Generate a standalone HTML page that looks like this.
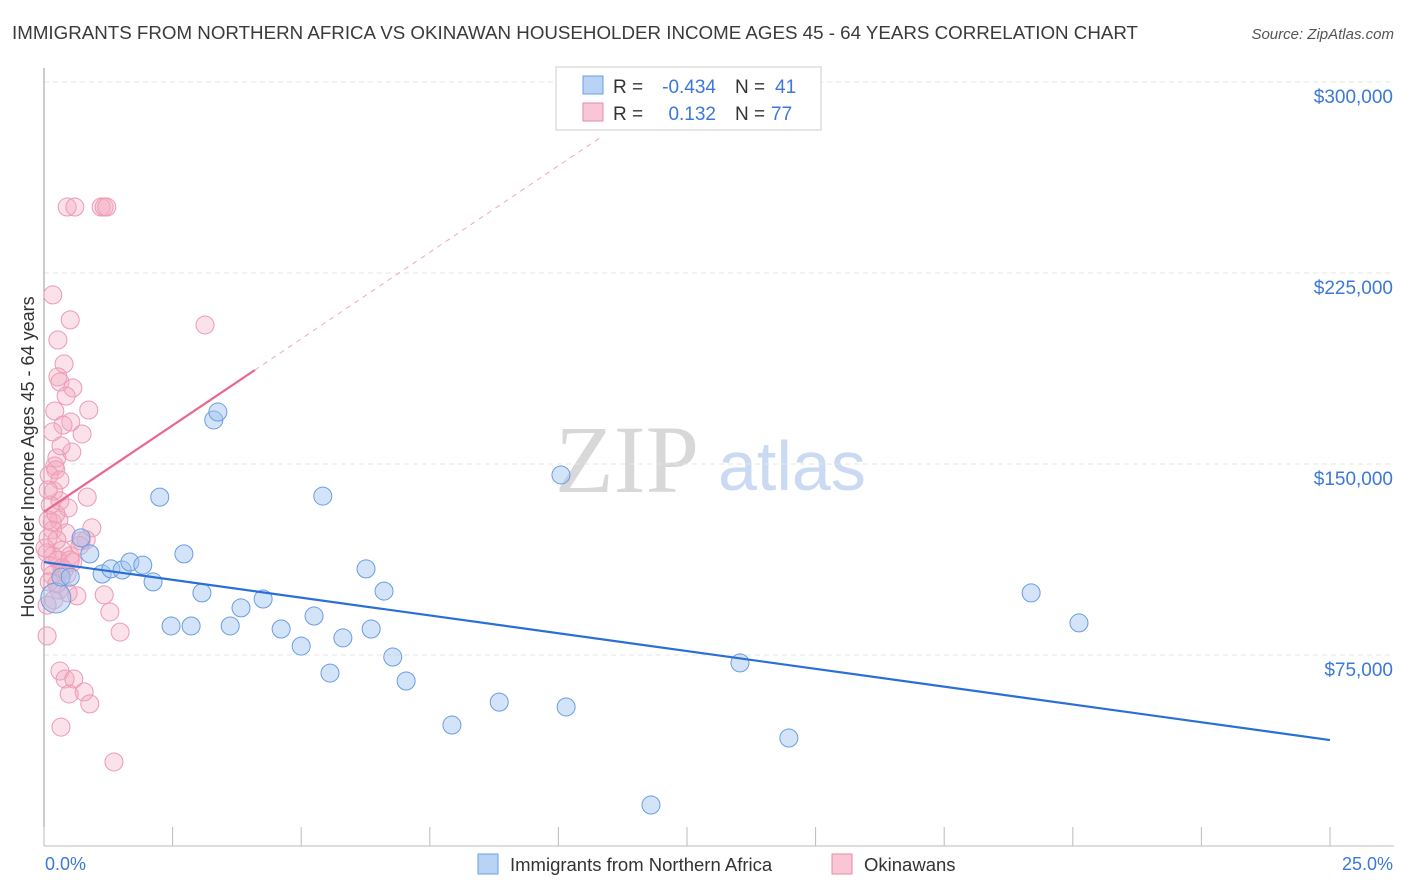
<!DOCTYPE html>
<html><head><meta charset="utf-8"><style>
body{margin:0;background:#fff;font-family:"Liberation Sans",sans-serif;}
svg{display:block}
</style></head><body>
<svg id="chart" width="1406" height="892">
<text x="12" y="39" font-size="18" textLength="1126" lengthAdjust="spacingAndGlyphs" fill="#3a3a3a">IMMIGRANTS FROM NORTHERN AFRICA VS OKINAWAN HOUSEHOLDER INCOME AGES 45 - 64 YEARS CORRELATION CHART</text>
<text x="1394" y="39" font-size="15" font-style="italic" fill="#555" text-anchor="end">Source: ZipAtlas.com</text>
<text x="555" y="492" font-size="96" font-family="Liberation Serif,serif" fill="#d8d8d8">ZIP</text>
<text x="718" y="490" font-size="70" fill="#c9daf2">atlas</text>
<g id="grid"></g>
<line x1="44" y1="68" x2="44" y2="846" stroke="#999"/>
<line x1="44" y1="846" x2="1394" y2="846" stroke="#bbb"/>
<g id="ticks"></g>
<text transform="translate(34,457) rotate(-90)" font-size="18" fill="#333" text-anchor="middle">Householder Income Ages 45 - 64 years</text>
<text x="45" y="870" font-size="18" fill="#3b78d8">0.0%</text>
<text x="1393" y="870" font-size="18" fill="#3b78d8" text-anchor="end">25.0%</text>
<g id="pts"></g>
<g id="lines"></g>
<g>
<rect x="556" y="67" width="265" height="63" fill="#fff" stroke="#ccc"/>
<rect x="583" y="76" width="20" height="18" fill="#b8d3f5" stroke="#6a9de0"/>
<rect x="583" y="103" width="20" height="18" fill="#f8c6d5" stroke="#e88aa8"/>
<text x="613" y="93" font-size="19" fill="#333">R =</text>
<text x="716" y="93" font-size="19" fill="#3b78d8" text-anchor="end">-0.434</text>
<text x="735" y="93" font-size="19" fill="#333">N =</text>
<text x="775" y="93" font-size="19" fill="#3b78d8">41</text>
<text x="613" y="120" font-size="19" fill="#333">R =</text>
<text x="716" y="120" font-size="19" fill="#3b78d8" text-anchor="end">0.132</text>
<text x="735" y="120" font-size="19" fill="#333">N =</text>
<text x="771" y="120" font-size="19" fill="#3b78d8">77</text>
</g>
<g>
<rect x="478" y="854" width="20" height="20" fill="#b8d3f5" stroke="#6a9de0"/>
<text x="510" y="871" font-size="18.5" fill="#333">Immigrants from Northern Africa</text>
<rect x="832" y="854" width="20" height="20" fill="#f8c6d5" stroke="#e88aa8"/>
<text x="864" y="871" font-size="18.5" fill="#333">Okinawans</text>
</g>
</svg>
<script>
const yTicks=[75000,150000,225000,300000];
const yTickLabels=["$75,000","$150,000","$225,000","$300,000"];
const blueX=[0.23,0.33,0.51,0.72,0.89,1.13,1.30,1.52,1.67,1.92,2.12,2.25,2.47,2.72,2.86,3.07,3.30,3.38,3.62,3.83,4.26,4.61,5.00,5.25,5.42,5.56,5.81,6.26,6.36,6.61,6.78,7.04,7.93,8.85,10.05,10.15,11.80,13.53,14.48,19.19,20.12];
const blueY=[97400,105600,105600,121000,114700,106800,108800,108400,111500,110300,103700,137000,86400,114700,86400,99400,167300,170400,86400,93500,97000,85200,78500,90300,137400,67900,81700,108800,85200,100100,74200,64800,47500,56500,145700,54600,16100,71900,42400,99400,87600];
const pinkX=[0.45,0.60,1.11,1.17,1.22,0.17,0.51,0.27,0.39,0.27,0.31,0.56,0.43,0.21,0.87,0.52,0.37,0.17,0.74,0.25,0.54,0.21,0.23,0.10,3.13,0.19,0.84,0.31,0.12,0.47,0.29,0.08,0.93,0.17,0.43,0.08,0.25,0.72,0.82,0.35,0.06,0.17,0.51,0.27,0.56,0.12,0.35,0.16,0.45,0.10,0.29,1.17,0.64,0.47,0.19,1.28,0.06,1.48,0.06,0.31,0.41,0.58,0.49,0.78,0.89,0.33,1.36,0.25,0.39,0.02,0.16,0.23,0.31,0.33,0.08,0.51,0.70];
const pinkY=[250900,250900,250900,250900,250900,216400,206600,198700,189300,184200,182200,179900,176700,170800,171200,166500,165300,162600,161800,152400,154700,149200,147700,145700,204600,139400,137000,135500,133900,132700,128000,128000,124900,124100,122900,121000,120200,119800,120200,116200,115100,113900,113900,112300,111500,110000,109200,106400,106800,103700,100500,98600,98200,99400,96600,91900,82500,84000,94600,68700,65600,65600,59700,60500,55800,46700,33000,102900,108400,117000,127200,130400,143700,157100,139800,112300,118000];
const blueFit=[[0,111500],[25,41600]];
const pinkFit=[[0,131200],[4.1,186900]];
const pinkFitExt=[[4.1,186900],[10.8,278000]];
const X=v=>44+v*(1330-44)/25;
const Y=v=>846-v*191/75000;
const NS="http://www.w3.org/2000/svg";
function mk(t,a,p){const e=document.createElementNS(NS,t);for(const k in a)e.setAttribute(k,a[k]);p.appendChild(e);return e;}
const grid=document.getElementById('grid'),ticks=document.getElementById('ticks'),pts=document.getElementById('pts'),lines=document.getElementById('lines');
yTicks.forEach((v,i)=>{
 const l=mk('line',{x1:44,x2:1394,y1:Y(v),y2:Y(v),stroke:'#e6e6e6','stroke-dasharray':'5,4'},grid);
 
 
 const t=mk('text',{x:1393,y:Y(v)+21,'font-size':19,fill:'#3b78d8','text-anchor':'end'},ticks);
 t.textContent=yTickLabels[i];
 
 
});
for(let i=0;i<=10;i++){
 const t=mk('line',{x1:X(i*2.5),x2:X(i*2.5),y1:827,y2:846,stroke:'#bbb'},ticks);
 
 
}
pinkX.forEach((x,i)=>{
 const c=mk('circle',{cx:X(x),cy:Y(pinkY[i]),r:9,fill:'rgba(244,168,192,0.35)',stroke:'#ec9ab5','stroke-width':1},pts);
 
 
});
blueX.forEach((x,i)=>{
 const c=mk('circle',{cx:X(x),cy:Y(blueY[i]),r:i==0?15:9,fill:'rgba(160,196,240,0.45)',stroke:'#6a9de0','stroke-width':1},pts);
 
 
});
const b=mk('line',{x1:X(blueFit[0][0]),y1:Y(blueFit[0][1]),x2:X(blueFit[1][0]),y2:Y(blueFit[1][1]),stroke:'#2a6fd6','stroke-width':2.2},lines);


const p=mk('line',{x1:X(pinkFit[0][0]),y1:Y(pinkFit[0][1]),x2:X(pinkFit[1][0]),y2:Y(pinkFit[1][1]),stroke:'#e8678f','stroke-width':2.2},lines);


const pe=mk('line',{x1:X(pinkFitExt[0][0]),y1:Y(pinkFitExt[0][1]),x2:X(pinkFitExt[1][0]),y2:Y(pinkFitExt[1][1]),stroke:'#f0a8be','stroke-width':1,'stroke-dasharray':'5,5'},lines);


</script>
</body></html>
